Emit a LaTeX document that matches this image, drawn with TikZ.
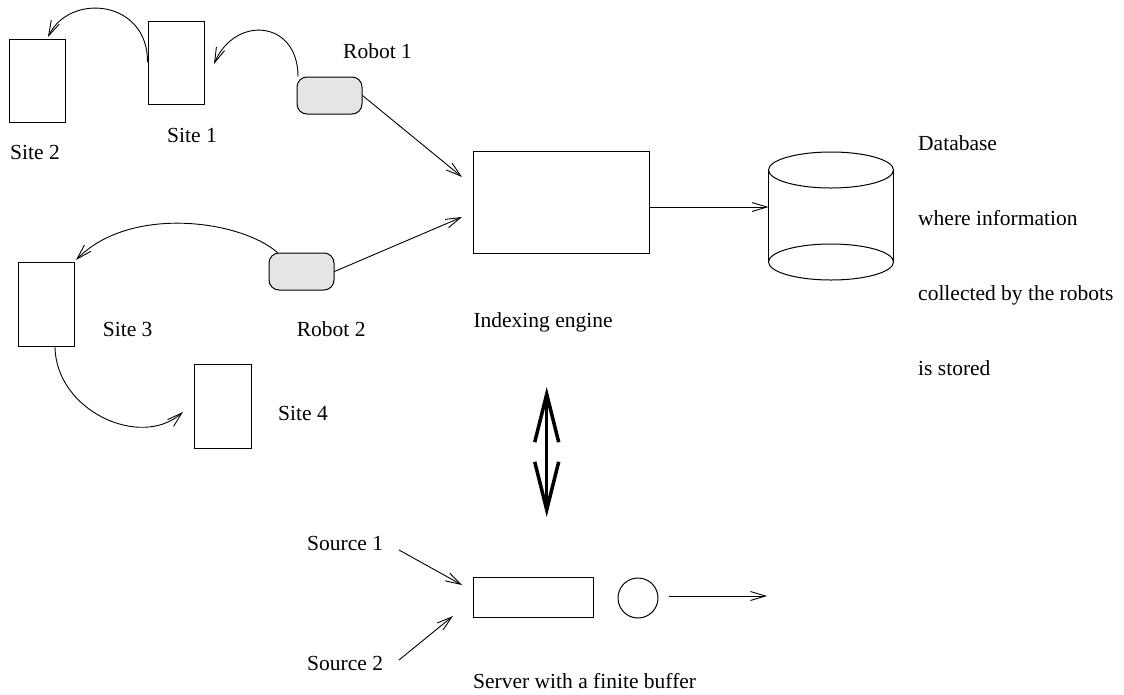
\documentclass[tikz,border=0pt]{standalone}
\usepackage{fontspec}
\setmainfont{Liberation Serif}
\usetikzlibrary{arrows.meta}
\definecolor{robotfill}{gray}{0.9}
\tikzset{
  lbl/.style={inner sep=0pt, anchor=base west, font=\fontsize{21.5}{25}\selectfont},
  sitebox/.style={draw, line width=1pt, inner sep=0pt, minimum width=56pt, minimum height=83pt},
  robotbox/.style={draw, line width=1pt, fill=robotfill, rounded corners=10pt, inner sep=0pt,
                   minimum width=65pt, minimum height=37pt},
  plainbox/.style={draw, line width=1pt, inner sep=0pt},
  arr/.style={line width=0.9pt, -{Straight Barb[length=15pt,width=9pt,line width=0.9pt]}},
  bigarr/.style={line width=3.5pt, {Straight Barb[length=48pt,width=24pt]}-{Straight Barb[length=48pt,width=24pt]}},
}
\begin{document}
\begin{tikzpicture}[x=1pt,y=-1pt]
\useasboundingbox (0,0) rectangle (1124,694);

% sites
\node[sitebox] (site2) at (37,81) {};
\node[sitebox] (site1) at (176,62.5) {};
\node[sitebox, minimum height=84pt] (site3) at (46,304) {};
\node[sitebox, minimum width=57pt, minimum height=84pt] (site4) at (222.5,406) {};

% robots
\node[robotbox] (robot1) at (329.5,95.5) {};
\node[robotbox] (robot2) at (301.5,271.5) {};

% indexing engine and queue
\node[plainbox, minimum width=176pt, minimum height=102pt] (engine) at (561,202) {};
\node[plainbox, minimum width=120pt, minimum height=40pt] (buffer) at (533,597) {};
\node[draw, line width=1pt, circle, inner sep=0pt, minimum size=40pt] (server) at (638,598) {};

% database cylinder
\draw[line width=1pt] (768.5,170) -- (768.5,262) (893.5,170) -- (893.5,262);
\draw[line width=1pt] (831,170) ellipse [x radius=62.5, y radius=18];
\draw[line width=1pt] (831,262) ellipse [x radius=62.5, y radius=18];
\coordinate (dbin) at (768.5,207);

% labels
\node[lbl] (l-robot1) at (343,58.3) {Robot 1};
\node[lbl] (l-site1) at (167,142.7) {Site 1};
\node[lbl] (l-site2) at (10,159.3) {Site 2};
\node[lbl] (l-site3) at (102.7,336.7) {Site 3};
\node[lbl] (l-robot2) at (296.7,336.7) {Robot 2};
\node[lbl] (l-site4) at (278,420) {Site 4};
\node[lbl] (l-engine) at (473.3,327.3) {Indexing engine};
\node[lbl] (l-db1) at (918,150.7) {Database};
\node[lbl] (l-db2) at (918,225) {where information};
\node[lbl] (l-db3) at (918,300) {collected by the robots};
\node[lbl] (l-db4) at (918,375) {is stored};
\node[lbl] (l-src1) at (307,550) {Source 1};
\node[lbl] (l-src2) at (307,670) {Source 2};
\node[lbl] (l-server) at (473,688) {Server with a finite buffer};

% free ends of connectors
\coordinate (e1) at (462,177);
\coordinate (e2) at (462,217);
\coordinate (s1start) at (399,550);
\coordinate (s1end) at (462,585);
\coordinate (s2start) at (399,660);
\coordinate (s2end) at (453,616);
\coordinate (outend) at (767,596);
\coordinate (dbltop) at (546.7,387);
\coordinate (dblbot) at (546.7,517);

% robot walks between sites
\draw[arr] (site1.west |- 0,62) .. controls (148,0) and (70,-8) .. (48,37);
\draw[arr] (robot1.north west) ++(1.5,0) .. controls (298,20) and (235,15) .. (214,64);
\draw[arr] (robot2.north west) ++(9,0) .. controls (240,220) and (130,205) .. (76,260);
\draw[arr] (site3.south |- 0,346) ++(9,0) .. controls (55,410) and (140,450) .. (183,412);

% robots report to the indexing engine
\draw[arr] (robot1.east) -- (e1);
\draw[arr] (robot2.east) -- (e2);
\draw[arr] (engine.east |- dbin) -- (dbin);

% exchange between engine and server
\draw[bigarr] (dbltop) -- (dblbot);

% queue
\draw[arr] (s1start) -- (s1end);
\draw[arr] (s2start) -- (s2end);
\draw[arr] ([xshift=10pt]server.east |- outend) -- (outend);
\end{tikzpicture}
\end{document}
